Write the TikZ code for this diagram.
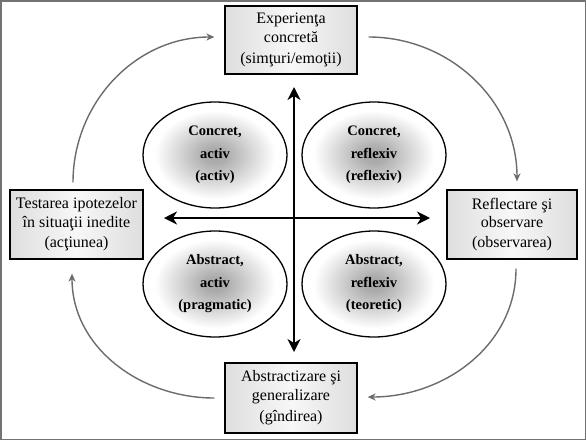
\documentclass[tikz,border=0pt]{standalone}
\usepackage{fontspec}
\setmainfont{Liberation Serif}
\usetikzlibrary{arrows.meta,shapes.geometric,calc}
\pgfdeclareradialshading{ellshade}{\pgfpoint{0bp}{0bp}}{color(0bp)=(black!36); color(4bp)=(black!32); color(21bp)=(white); color(50bp)=(white)}
\begin{document}
\begin{tikzpicture}[x=1pt,y=-1pt,
  stagebox/.style={draw=black,line width=1.3pt,left color=black!13,right color=black!13,middle color=black!3,
    align=center,inner sep=0pt,font=\fontsize{16}{18.4}\selectfont},
  styleell/.style={ellipse,draw=black,line width=1.3pt,shading=ellshade,minimum width=144pt,minimum height=106pt,
    inner sep=0pt,align=center,font=\fontsize{14.5}{22.5}\selectfont\bfseries},
  cyc/.style={draw=black!58,line width=1.4pt,-{Stealth[length=8pt,width=7pt,inset=2.5pt]}},
  axis/.style={draw=black,line width=1.8pt,{Stealth[length=13pt,width=13pt,inset=4pt]}-{Stealth[length=13pt,width=13pt,inset=4pt]}}
]
\useasboundingbox (0,0) rectangle (586,440);
\draw[black!55,line width=1.5pt] (0.75,0.75) rectangle (585.25,439.25);

% stage boxes
\node[stagebox,minimum width=132pt,minimum height=68pt] (T) at (291,40) {Experienţa\\concretă\\[3pt](simţuri/emoţii)};
\node[stagebox,minimum width=130pt,minimum height=69pt] (R) at (512,224.5) {Reflectare şi\\observare\\[2pt](observarea)};
\node[stagebox,minimum width=132pt,minimum height=70pt] (B) at (291,398) {Abstractizare şi\\generalizare\\[3pt](gîndirea)};
\node[stagebox,minimum width=133pt,minimum height=69pt] (L) at (76.5,224.5) {Testarea ipotezelor\\în situaţii inedite\\[2pt](acţiunea)};

% style ellipses
\node[styleell] (CA) at (215,155) {Concret,\\activ\\(activ)};
\node[styleell] (CR) at (374,155) {Concret,\\reflexiv\\(reflexiv)};
\node[styleell] (AA) at (215,284) {Abstract,\\activ\\(pragmatic)};
\node[styleell] (AR) at (374,284) {Abstract,\\reflexiv\\(teoretic)};

% axes
\coordinate (vtop) at (294,87);
\coordinate (vbot) at (294,352);
\coordinate (hleft) at (164,218);
\coordinate (hright) at (430,218);
\draw[axis] (vtop) -- (vbot);
\draw[axis] (hleft) -- (hright);

% cycle arrows
\draw[cyc] ([shift={(-3.5pt,7pt)}]L.north) to[out=90,in=180] ([shift={(-10pt,3pt)}]T.west);
\draw[cyc] ([shift={(11pt,3pt)}]T.east) to[out=0,in=90] ([shift={(5pt,8pt)}]R.north);
\draw[cyc] ([shift={(4pt,-9pt)}]R.south) to[out=-90,in=0] ([shift={(10pt,1pt)}]B.east);
\draw[cyc] ([shift={(-10pt,0pt)}]B.west) to[out=180,in=-90] ([shift={(-4.5pt,-14pt)}]L.south);
\end{tikzpicture}
\end{document}
